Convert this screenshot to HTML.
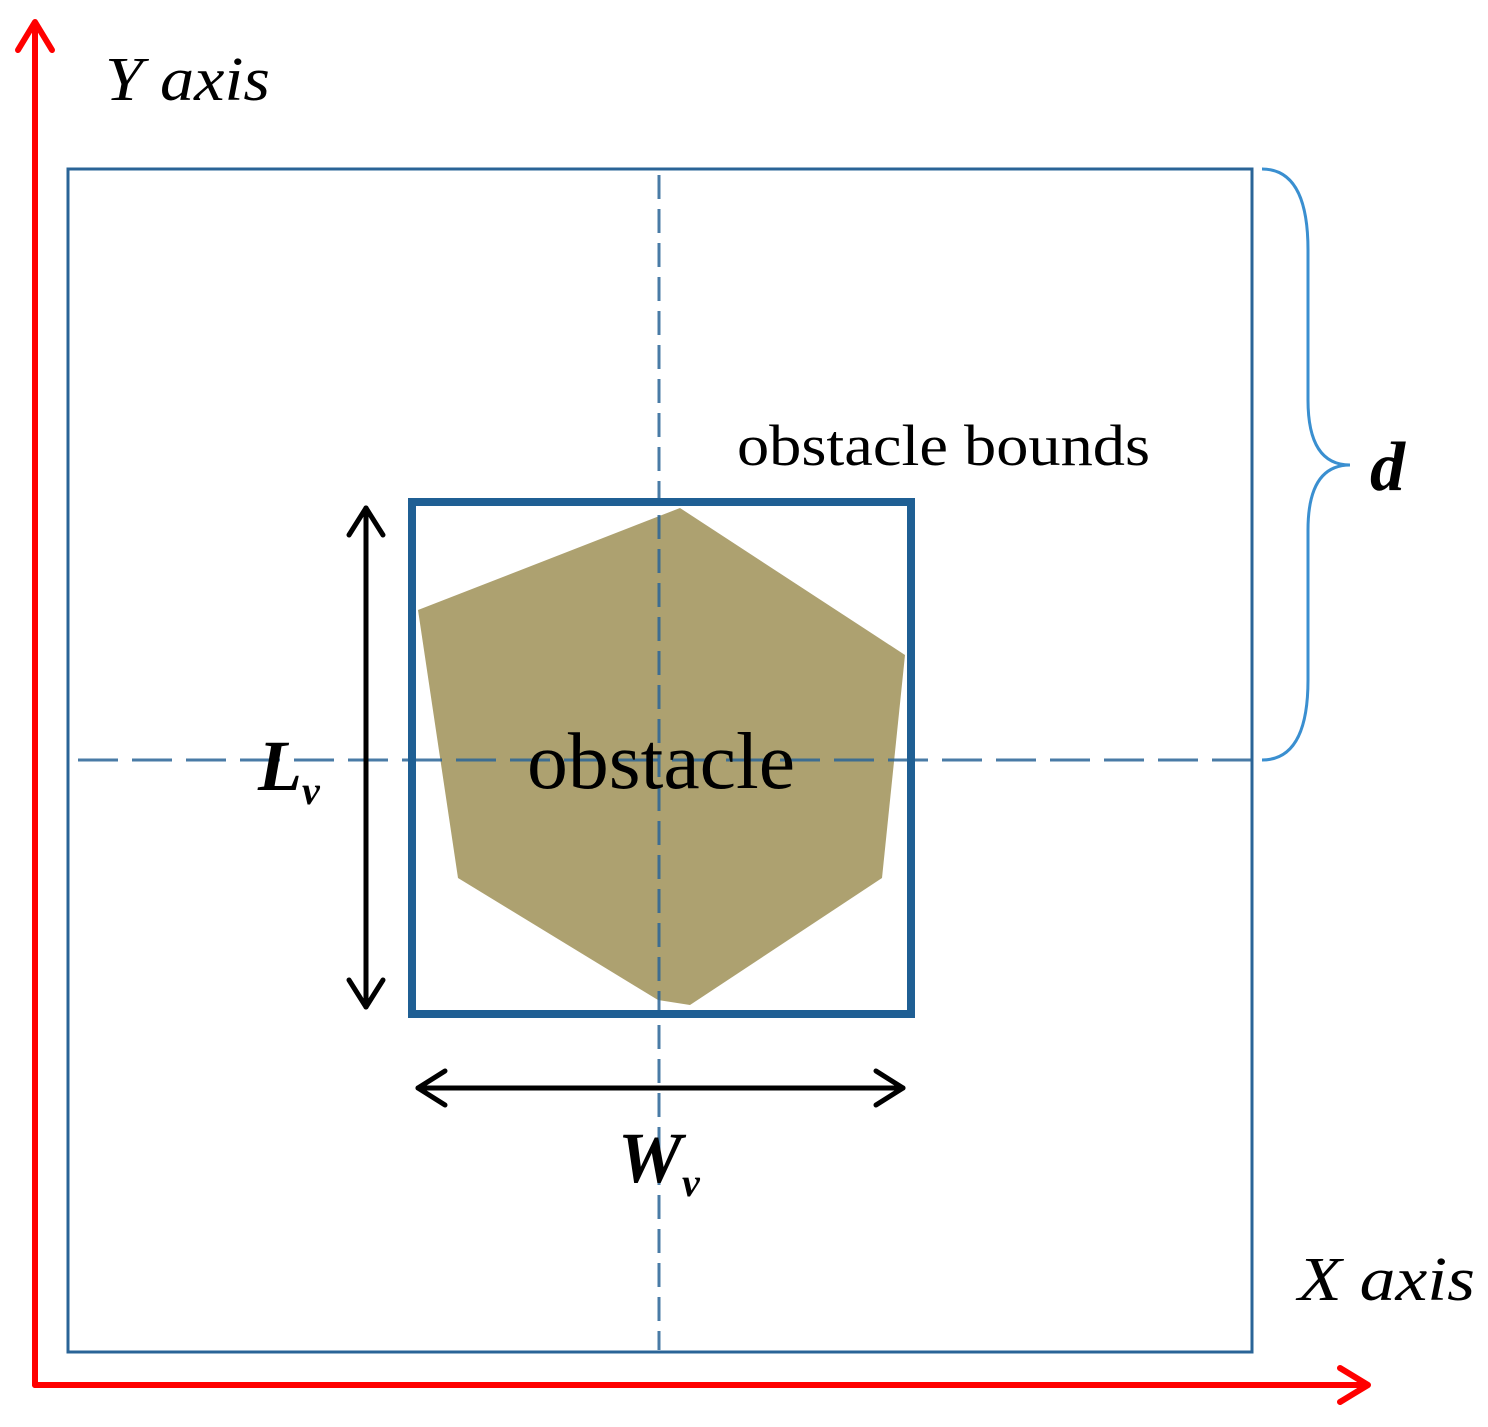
<!DOCTYPE html>
<html><head><style>body{margin:0;background:#fff}</style></head><body>
<svg width="1488" height="1422" viewBox="0 0 1488 1422" xmlns="http://www.w3.org/2000/svg" font-family="Liberation Serif, serif">
<rect x="68" y="169" width="1184" height="1183" fill="none" stroke="#2a6497" stroke-width="3"/>
<polygon points="418,610 680,508 905,655 882,878 690,1005 658,1000 458,878" fill="#ada170"/>
<line x1="659" y1="175" x2="659" y2="1350" stroke="#2a6497" stroke-width="3" stroke-dasharray="24,10" opacity="0.85"/>
<line x1="78" y1="760" x2="1255" y2="760" stroke="#2a6497" stroke-width="3" stroke-dasharray="40,14" opacity="0.85"/>
<rect x="412" y="502" width="499" height="512" fill="none" stroke="#1f5f94" stroke-width="8"/>
<path d="M1262,169 Q1308,169 1308,250 L1308,400 Q1308,465 1350,465 Q1308,465 1308,530 L1308,680 Q1308,760 1262,760" fill="none" stroke="#3a8fd0" stroke-width="3"/>
<g stroke="#f00" stroke-width="6" fill="none" stroke-linecap="round" stroke-linejoin="round">
<line x1="35" y1="24" x2="35" y2="1385"/><line x1="35" y1="1385" x2="1365" y2="1385"/>
<polyline points="18,50 35,22 52,50"/><polyline points="1340,1368 1368,1385 1340,1402"/>
</g>
<g stroke="#000" stroke-width="5" fill="none" stroke-linecap="round" stroke-linejoin="round">
<line x1="366" y1="508" x2="366" y2="1007"/><polyline points="349,535 366,508 383,535"/><polyline points="349,980 366,1007 383,980"/>
<line x1="418" y1="1088" x2="903" y2="1088"/><polyline points="445,1071 418,1088 445,1105"/><polyline points="876,1071 903,1088 876,1105"/>
</g>
<text x="105" y="100" font-size="62" font-style="italic" textLength="165" lengthAdjust="spacingAndGlyphs">Y axis</text>
<text x="1298" y="1300" font-size="62" font-style="italic" textLength="177" lengthAdjust="spacingAndGlyphs">X axis</text>
<text x="737" y="465" font-size="58" textLength="413" lengthAdjust="spacingAndGlyphs">obstacle bounds</text>
<text x="527" y="788" font-size="80" textLength="268" lengthAdjust="spacingAndGlyphs">obstacle</text>
<text x="258" y="790" font-size="72" font-style="italic" font-weight="bold">L<tspan font-size="40" dy="14">v</tspan></text>
<text x="618" y="1182" font-size="72" font-style="italic" font-weight="bold">W<tspan font-size="40" dy="14">v</tspan></text>
<text x="1370" y="490" font-size="70" font-style="italic" font-weight="bold">d</text>
</svg>
</body></html>
